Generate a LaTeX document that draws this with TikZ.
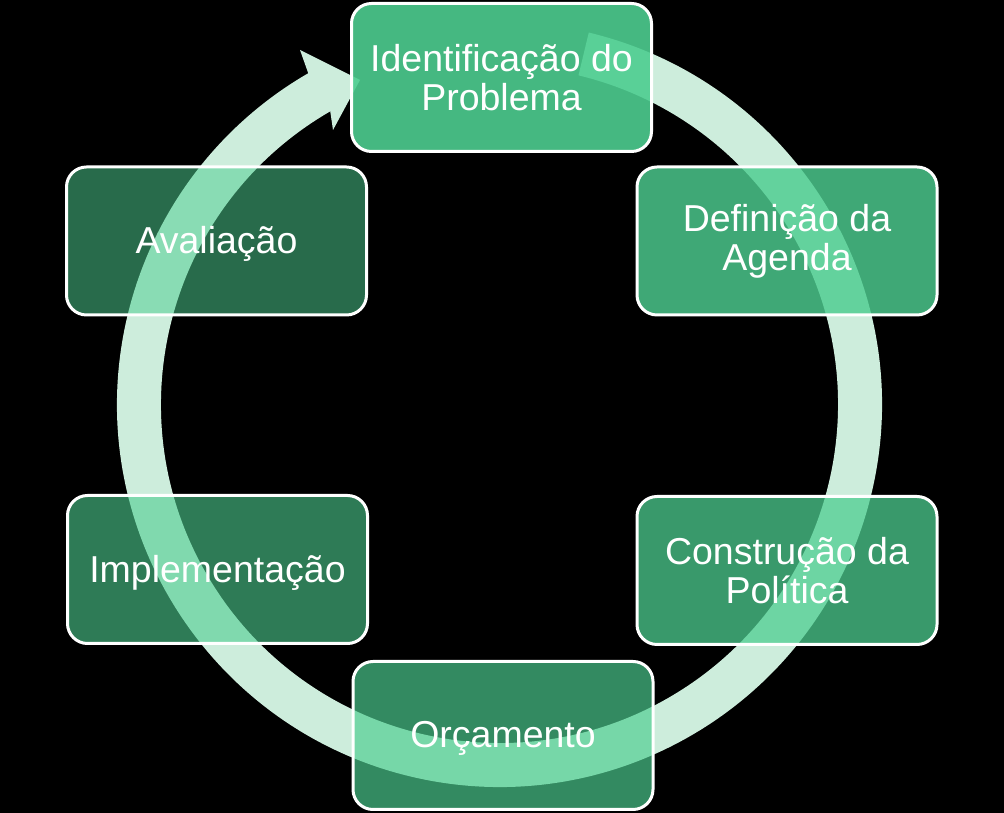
\documentclass[tikz,border=0pt]{standalone}
\usepackage{fontspec}
\setmainfont{Liberation Sans}
\usetikzlibrary{calc}
\definecolor{boxg}{RGB}{77,205,144}
\definecolor{arrowg}{RGB}{205,237,220}
\newcommand{\lowtxt}[1]{\raisebox{-3pt}[\height][\depth]{#1}}
\tikzset{
  stage/.style={draw=white, line width=3pt, fill=boxg, rounded corners=20pt,
    minimum width=300pt, minimum height=148pt, text=white, text opacity=1,
    align=center, font=\fontsize{37.5}{39}\selectfont, inner sep=0pt},
  cyclearrow/.style={fill=arrowg}
}
\begin{document}
\begin{tikzpicture}[x=1pt,y=1pt]
\fill[black] (0,0) rectangle (1004,813);
\useasboundingbox (0,0) rectangle (1004,813);
\coordinate (c) at (499.5,408.5);
\coordinate (ub) at (300,763);
\coordinate (lb) at (333,683);
\coordinate (tip) at (360,733);
\fill[cyclearrow] ($(c)+(76.5:382.5)$) arc[start angle=76.5,end angle=-240,radius=382.5]
  -- (ub) -- (tip) -- (lb) -- ($(c)+(-240:338.5)$)
  arc[start angle=-240,end angle=76.5,radius=338.5] -- cycle;
\node[stage, fill opacity=0.9]   (idp) at (501.5,735.5) {Identificação do\\Problema};
\node[stage, fill opacity=0.825] (def) at (787,572) {Definição da\\Agenda};
\node[stage, fill opacity=0.75]  (con) at (787,242.5) {Construção da\\Política};
\node[stage, fill opacity=0.675] (orc) at (503,77.5) {\lowtxt{Orçamento}};
\node[stage, fill opacity=0.6]   (imp) at (217.5,243.5) {\lowtxt{Implementação}};
\node[stage, fill opacity=0.525] (ava) at (216.5,572) {\lowtxt{Avaliação}};
\end{tikzpicture}
\end{document}
